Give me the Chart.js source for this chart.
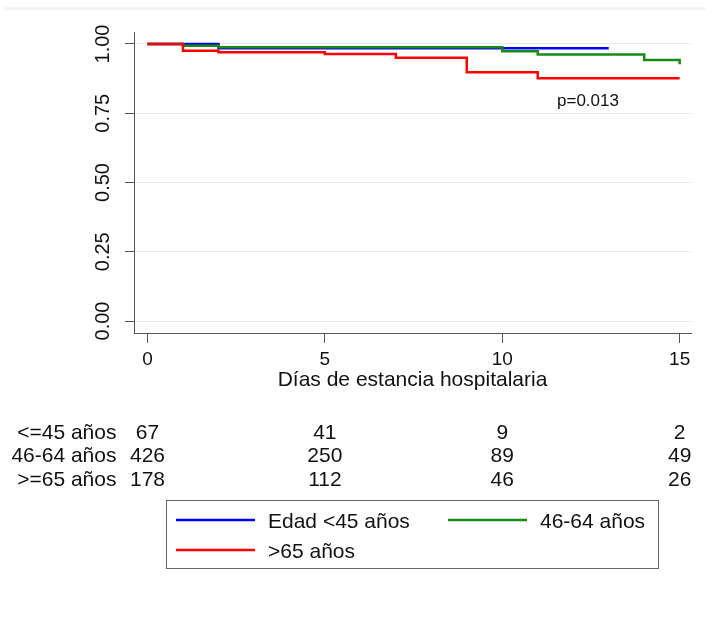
<!DOCTYPE html>
<html>
<head>
<meta charset="utf-8">
<script src="https://cdn.jsdelivr.net/npm/chart.js@4.4.1/dist/chart.umd.min.js"></script>
<style>
   body { margin: 0; background: #fff; }
   #wrap { position: relative; width: 705px; height: 620px; }
   #topline { position: absolute; left: 5px; right: 0; top: 7px; height: 3px; background: #f1f4f4; }
</style>
</head>
<body>
<div id="wrap">
   <div id="topline"></div>
   <canvas id="kmChart"></canvas>
</div>
<script>
// Kaplan-Meier steps (day, survival after the step)
const daysYoung = [0, 2, 13];
const survYoung = [1.000, 0.985, 0.985];
const daysMid = [0, 1, 2, 10, 11, 14, 15];
const survMid = [1.000, 0.994, 0.988, 0.974, 0.962, 0.942, 0.927];
const daysOld = [0, 1, 2, 5, 7, 9, 11, 15];
const survOld = [1.000, 0.976, 0.970, 0.964, 0.950, 0.898, 0.876, 0.876];

const seriesLabels = ['Edad <45 años', '46-64 años', '>65 años'];
const xTicks = [0, 5, 10, 15];
const yTicks = [0, 0.25, 0.5, 0.75, 1];

// number at risk table
const riskLabels = ['<=45 años', '46-64 años', '>=65 años'];
const riskYoung = [67, 41, 9, 2];
const riskMid = [426, 250, 89, 49];
const riskOld = [178, 112, 46, 26];
const pValue = 'p=0.013';

const FONT = '"Liberation Sans", Arial, Helvetica, sans-serif';

function toPoints(days, surv) {
   return days.map((d, i) => ({ x: d, y: surv[i] }));
}

const extrasPlugin = {
   id: 'extras',
   afterDraw(chart) {
      const ctx = chart.ctx;
      const xs = chart.scales.x;
      const ys = chart.scales.y;
      ctx.save();
      ctx.fillStyle = '#111';

      // rotated y tick labels
      ctx.font = '20px ' + FONT;
      ctx.textAlign = 'center';
      ctx.textBaseline = 'middle';
      ys.ticks.forEach(t => {
         ctx.save();
         ctx.translate(103.5, ys.getPixelForValue(t.value));
         ctx.rotate(-Math.PI / 2);
         ctx.fillText(t.value.toFixed(2), 0, 0);
         ctx.restore();
      });

      // p value
      ctx.font = '17px ' + FONT;
      ctx.textAlign = 'left';
      ctx.fillText(pValue, 557, 101);

      // number at risk
      ctx.font = '21px ' + FONT;
      const rows = [riskYoung, riskMid, riskOld];
      const rowY = [433, 456.5, 480];
      const x0 = xs.getPixelForValue(xTicks[0]);
      rows.forEach((row, r) => {
         ctx.textAlign = 'right';
         ctx.fillText(riskLabels[r], x0 - 31, rowY[r]);
         ctx.textAlign = 'center';
         row.forEach((n, i) => {
            ctx.fillText(String(n), xs.getPixelForValue(xTicks[i]), rowY[r]);
         });
      });

      // legend box
      ctx.strokeStyle = '#666';
      ctx.lineWidth = 1;
      ctx.strokeRect(166.5, 500.5, 492, 68);
      const slots = [[176, 520], [448, 520], [176, 550]];
      chart.data.datasets.forEach((ds, i) => {
         const [lx, ly] = slots[i];
         ctx.strokeStyle = ds.borderColor;
         ctx.lineWidth = 2.5;
         ctx.beginPath();
         ctx.moveTo(lx, ly);
         ctx.lineTo(lx + 79, ly);
         ctx.stroke();
         ctx.textAlign = 'left';
         ctx.fillText(ds.label, lx + 92, ly + 2);
      });
      ctx.restore();
   }
};

const ctx = document.getElementById('kmChart').getContext('2d');
const chart = new Chart(ctx, {
   type: 'line',
   data: {
      datasets: [
         { label: seriesLabels[0], data: toPoints(daysYoung, survYoung), borderColor: '#0000ff', order: 3 },
         { label: seriesLabels[1], data: toPoints(daysMid, survMid), borderColor: '#188a18', order: 2 },
         { label: seriesLabels[2], data: toPoints(daysOld, survOld), borderColor: '#ff0000', order: 1 }
      ]
   },
   options: {
      responsive: true,
      maintainAspectRatio: false,
      animation: false,
      datasets: {
         line: { stepped: 'before', borderWidth: 2.5, pointRadius: 0, fill: false, tension: 0 }
      },
      layout: { padding: { left: 0, top: 32, right: 14, bottom: 227 } },
      plugins: {
         legend: { display: false },
         tooltip: { enabled: false }
      },
      scales: {
         x: {
            type: 'linear',
            min: -0.38,
            max: 15.32,
            afterBuildTicks: s => { s.ticks = xTicks.map(v => ({ value: v })); },
            afterFit: s => { s.height = 60; },
            grid: { drawOnChartArea: false, drawTicks: true, tickLength: 10, tickColor: '#555' },
            border: { display: true, color: '#555', width: 1 },
            ticks: { color: '#111', font: { family: FONT, size: 19 }, padding: 5, maxRotation: 0 },
            title: {
               display: true,
               text: 'Días de estancia hospitalaria',
               color: '#111',
               font: { family: FONT, size: 21 },
               padding: { top: 0, bottom: 0 }
            }
         },
         y: {
            type: 'linear',
            min: -0.0433,
            max: 1.0433,
            afterBuildTicks: s => { s.ticks = yTicks.map(v => ({ value: v })); },
            afterFit: s => { s.width = 134; },
            grid: { color: '#e3ecef', lineWidth: 1, drawTicks: true, tickLength: 9, tickColor: '#555' },
            border: { display: true, color: '#555', width: 1 },
            ticks: { display: false }
         }
      }
   },
   plugins: [extrasPlugin]
});
</script>
</body>
</html>
